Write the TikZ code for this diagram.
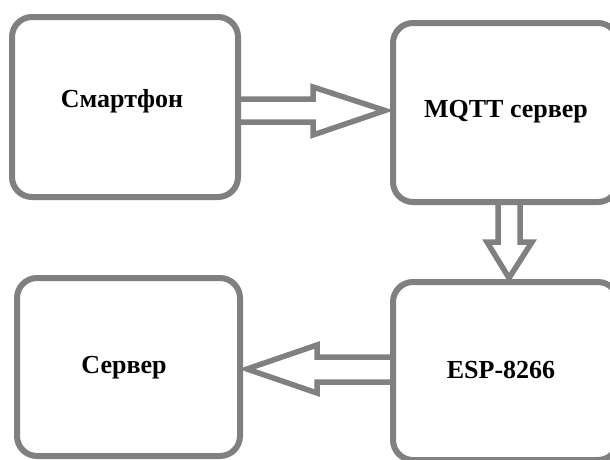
\documentclass[tikz,border=0pt]{standalone}
\usepackage{fontspec}
\setmainfont{Liberation Serif}
\usetikzlibrary{calc}
\definecolor{edgegray}{HTML}{808080}
\begin{document}
\begin{tikzpicture}[x=1pt,y=-1pt,
  block/.style={draw=edgegray, line width=6pt, rounded corners=20pt, rectangle, inner sep=0pt, outer sep=0pt},
  lbl/.style={font=\fontsize{26}{30}\selectfont\bfseries, inner sep=0pt, text=black},
  fatarrow/.style={draw=edgegray, line width=5.5pt, line join=miter, miter limit=10}]
\clip (0,0) rectangle (610,459);
\fill[white] (0,0) rectangle (610,459);
\node[block, minimum width=226pt, minimum height=180pt] (b1) at (125,107) {};
\node[block, minimum width=225pt, minimum height=179pt] (b2) at (505.5,112.5) {};
\node[block, minimum width=223pt, minimum height=178pt] (b3) at (128.5,367) {};
\node[block, minimum width=225pt, minimum height=178pt] (b4) at (505.5,371) {};
\node[lbl] (t1) at (122,101) {Смартфон};
\node[lbl] (t2) at (506,112) {MQTT сервер};
\node[lbl] (t3) at (124,368) {Сервер};
\node[lbl] (t4) at (501,370) {ESP-8266};
% arrow Smartphone -> MQTT
\draw[fatarrow] (b1.east |- 0,99) -- (313,99) -- (313,87) -- ($(b2.west |- 0,110.5)+(-8,0)$) -- (313,135) -- (313,122) -- (b1.east |- 0,122);
% arrow MQTT -> ESP
\draw[fatarrow] (498,0 |- b2.south) -- (498,242) -- (487,242) -- ($(509,0 |- b4.north)+(0,-4)$) -- (532,242) -- (520,242) -- (520,0 |- b2.south);
% arrow ESP -> Server
\draw[fatarrow] (b4.west |- 0,357) -- (317,357) -- (317,345) -- ($(b3.east |- 0,369)+(7,0)$) -- (317,393) -- (317,382) -- (b4.west |- 0,382);
\end{tikzpicture}
\end{document}
